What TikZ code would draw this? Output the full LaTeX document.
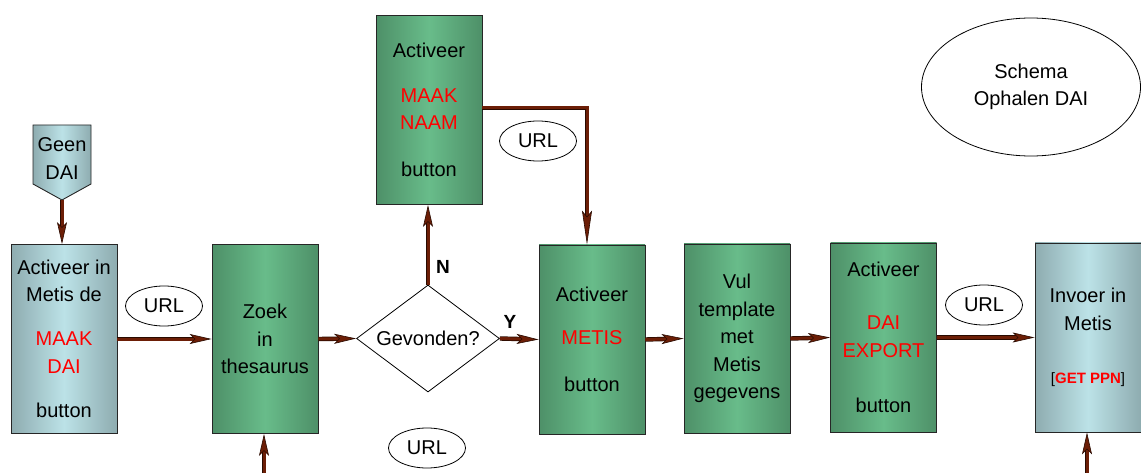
\documentclass[tikz,border=0pt]{standalone}
\usepackage{fontspec}
\setmainfont{Liberation Sans}
\usetikzlibrary{arrows.meta,shapes.geometric}
\definecolor{greenedge}{RGB}{78,144,104}
\definecolor{greenmid}{RGB}{104,188,138}
\definecolor{blueedge}{RGB}{142,172,176}
\definecolor{bluemid}{RGB}{188,226,231}
\definecolor{arrowfill}{RGB}{108,30,6}
\definecolor{arrowedge}{RGB}{40,10,0}
\newcommand\redtxt[1]{{\color{red}#1}}
\begin{document}
\begin{tikzpicture}[x=1pt,y=-1pt,
  txt/.style={font=\fontsize{20pt}{27.5pt}\selectfont, align=center, text=black},
  box/.style={txt, rectangle, draw=black!85, line width=0.9pt,
    minimum width=106pt, minimum height=189pt, inner sep=0pt},
  greenbox/.style={box, left color=greenedge, right color=greenedge, middle color=greenmid},
  bluebox/.style={box, left color=blueedge, right color=blueedge, middle color=bluemid},
  urlbubble/.style={txt, ellipse, draw=black, line width=0.8pt,
    minimum width=77pt, minimum height=40pt, inner sep=0pt, fill=white},
  flow/.style={draw=arrowfill, line width=3pt,
    -{Stealth[length=22pt, width=10pt, inset=5pt, line width=0.6pt, color=arrowedge, fill=arrowfill]},
    preaction={draw=arrowedge, line width=4.4pt, arrows=-, shorten >=14pt}},
  flowlong/.style={flow,
    -{Stealth[length=34pt, width=10pt, inset=6pt, line width=0.6pt, color=arrowedge, fill=arrowfill]},
    preaction={draw=arrowedge, line width=4.4pt, arrows=-, shorten >=22pt}},
  yn/.style={font=\fontsize{19pt}{22pt}\selectfont\bfseries}
]
\useasboundingbox (0,0) rectangle (1141,473);

% start marker
\path[left color=blueedge, right color=blueedge, middle color=bluemid, draw=black!85, line width=0.9pt]
  (33,125) -- (91,125) -- (91,184) -- (62,200) -- (33,184) -- cycle;
\node[txt] (geen) at (62,158.5) {Geen\\DAI};
\coordinate (geentip) at (62,200);

% process boxes
\node[bluebox] (maakdai) at (64,339)
  {Activeer in\\Metis de\\[16.5pt]\redtxt{MAAK}\\\redtxt{DAI}\\[17pt]button};
\node[greenbox] (zoek) at (265,339) {Zoek\\in\\thesaurus};
\node[txt, diamond, draw=black, line width=0.8pt, aspect=1.336,
  minimum width=143pt, minimum height=107pt, inner sep=0pt] (gevonden) at (428,338.5) {Gevonden?};
\node[greenbox] (naam) at (429,110)
  {Activeer\\[17.5pt]\redtxt{MAAK}\\\redtxt{NAAM}\\[19.5pt]button};
\node[greenbox] (metis) at (592,339.5)
  {Activeer\\[15.5pt]\redtxt{METIS}\\[19.5pt]button};
\node[greenbox] (vul) at (737,338.5) {Vul\\template\\met\\Metis\\gegevens};
\node[greenbox] (export) at (883.5,337.5)
  {Activeer\\[25.5pt]\redtxt{DAI}\\\redtxt{EXPORT}\\[27.5pt]button};
\node[bluebox] (invoer) at (1088,337.5)
  {Invoer in\\Metis\\[26pt]{\fontsize{15pt}{18pt}\selectfont[\redtxt{\bfseries GET PPN}]}};

% title
\node[txt, ellipse, draw=black, line width=0.8pt, minimum width=219pt, minimum height=138pt,
  inner sep=0pt] (schema) at (1031,87) {Schema\\Ophalen DAI};

% URL bubbles
\node[urlbubble] (url1) at (164,306) {URL};
\node[urlbubble] (url2) at (538,141) {URL};
\node[urlbubble] (url3) at (427,448) {URL};
\node[urlbubble] (url4) at (984,305) {URL};

% feed points at the lower edge
\coordinate (zoekfeed) at (264,473);
\coordinate (invoerfeed) at (1087,473);

% connectors
\draw[flow] (geentip) -- (geentip |- maakdai.north);
\draw[flow] (maakdai.east) -- (zoek.west);
\draw[flow] (zoek.east) -- (gevonden.west);
\draw[flow] (gevonden.north) -- (gevonden.north |- naam.south);
\draw[flow] (gevonden.east) -- (metis.west);
\draw[flowlong] ([yshift=2pt]naam.east) -| ([xshift=-5pt]metis.north);
\draw[flow] (metis.east) -- (vul.west);
\draw[flow] (vul.east) -- (export.west);
\draw[flow] (export.east) -- (invoer.west);
\draw[flow] (zoekfeed) -- (zoekfeed |- zoek.south);
\draw[flow] (invoerfeed) -- (invoerfeed |- invoer.south);

% branch labels
\node[yn] (nlabel) at (443,267) {N};
\node[yn] (ylabel) at (510,322) {Y};
\end{tikzpicture}
\end{document}
